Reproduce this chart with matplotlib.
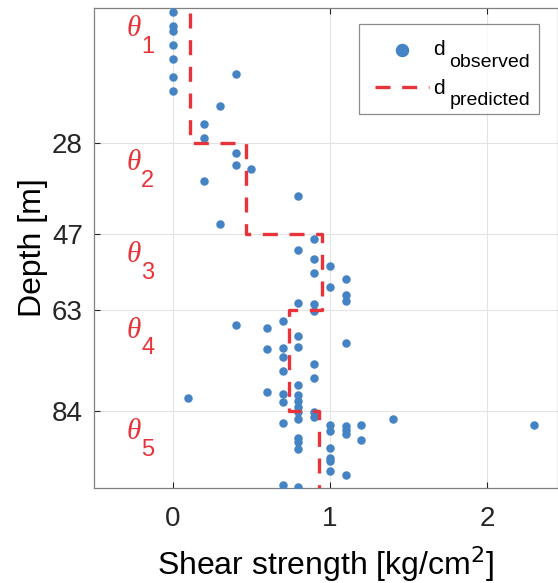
import numpy as np
import matplotlib
matplotlib.use('Agg')
import matplotlib.pyplot as plt

plt.rcParams['font.family'] = ['Liberation Sans', 'DejaVu Sans']

# observed shear strength [kg/cm2] and depth [m]
shear_obs = [0, 0, 0, 0, 0, 0, 0, 0.4, 0.3, 0.2, 0.2,
             0.4, 0.4, 0.5, 0.2, 0.8, 0.3,
             0.9, 0.8, 0.9, 1.0, 0.9, 1.1, 1.0, 1.1, 1.1, 0.8, 0.9, 0.9,
             0.7, 0.4, 0.6, 0.8, 1.1, 0.6, 0.7, 0.8, 0.7, 0.9, 0.7, 0.9,
             0.8, 0.6, 0.7, 0.8, 0.1, 0.8, 0.7, 0.8, 0.8,
             0.9, 0.9, 0.8, 0.7, 1.0, 1.1, 1.2, 1.4, 2.3, 1.1, 1.1, 1.0,
             1.2, 0.8, 0.8, 0.8, 1.0, 1.0, 1.0, 1.0, 1.1, 0.7, 0.8]
depth_obs = [0.8, 3.75, 4.8, 7.7, 10.6, 14.4, 17.3, 13.75, 20.3, 24.2, 27.1,
             30.2, 32.6, 33.5, 36.0, 39.1, 44.9,
             48.1, 50.3, 52.3, 53.75, 55.3, 56.5, 58.2, 59.7, 61.1, 61.4, 61.7, 63.2,
             65.1, 66.0, 66.6, 68.3, 69.7, 71.1, 70.9, 70.7, 72.7, 74.2, 75.6, 77.1,
             78.6, 79.9, 80.4, 80.6, 81.25, 81.8, 82.0, 83.1, 84.1,
             84.2, 85.3, 85.6, 86.4, 86.9, 87.1, 86.9, 85.6, 86.9, 88.0, 88.7, 88.2,
             90.0, 89.6, 90.5, 91.9, 91.6, 93.75, 94.4, 96.4, 97.2, 99.4, 99.9]

# predicted layered model
layer_bounds = [1, 28, 47, 63, 84, 100]
layer_values = [0.11, 0.465, 0.947, 0.74, 0.93]
layer_index = ['1', '2', '3', '4', '5']
label_depths = [4.4, 32.3, 51.5, 67.2, 88.4]
legend_subs = ['observed', 'predicted']

blue = '#4584c4'
red = '#e8333a'

fig = plt.figure(figsize=(5.58, 5.83), dpi=100)
ax = fig.add_axes([0.1685, 0.163, 0.8315, 0.823])

ax.grid(True, color='#e3e3e3', linewidth=0.8)
ax.set_axisbelow(True)

ax.scatter(shear_obs, depth_obs, s=26, color=blue, zorder=3, label='d')

# step line for the layered prediction
px, py = [], []
for i, v in enumerate(layer_values):
    px += [v, v]
    py += [layer_bounds[i], layer_bounds[i + 1]]
ax.plot(px, py, color=red, linewidth=2.4, dashes=(4.5, 3.5), zorder=4, label='d')

# theta labels: italic theta + subscript digit
for idx, d in zip(layer_index, label_depths):
    ax.text(-0.293, d, '\u03b8', color=red, fontsize=21, va='center', ha='left',
            family='Liberation Serif', style='italic')
    ax.annotate(idx, xy=(-0.293, d), xytext=(10.5, -12.5), textcoords='offset points',
                color=red, fontsize=17, va='center', ha='left')

ax.set_xlim(-0.5, 2.45)
ax.set_ylim(100, 0)
ax.set_xticks([0, 1, 2])
ax.set_yticks([28, 47, 63, 84])
ax.tick_params(direction='in', length=4, width=0.8, labelsize=20,
               colors='#262626', top=True, right=False)
ax.tick_params(axis='x', pad=13)
ax.tick_params(axis='y', pad=8)
for s in ax.spines.values():
    s.set_color('#808080')
    s.set_linewidth(0.9)

ax.set_xlabel(r'Shear strength [kg/cm$^2$]', fontsize=23, labelpad=9)
ax.set_ylabel('Depth [m]', fontsize=23, labelpad=3)

leg = ax.legend(loc='upper right', bbox_to_anchor=(0.571, 0.5, 0.388, 0.467),
                mode='expand', borderaxespad=0, fontsize=15, markerscale=1.7,
                handlelength=2.6, frameon=True, fancybox=False, borderpad=0.77,
                labelspacing=0.95, handletextpad=0.2)
leg.get_frame().set_edgecolor('#707070')
leg.get_frame().set_linewidth(0.9)

# large subscripts next to the "d" legend labels
fig.canvas.draw()
W, H = fig.bbox.width, fig.bbox.height
for t, sub in zip(leg.get_texts(), legend_subs):
    bb = t.get_window_extent()
    base = bb.y0 + 4.4
    fig.text((bb.x0 + 16) / W, (base - 12) / H, sub, fontsize=14,
             va='baseline', ha='left')

fig.savefig('out.png', dpi=100)
